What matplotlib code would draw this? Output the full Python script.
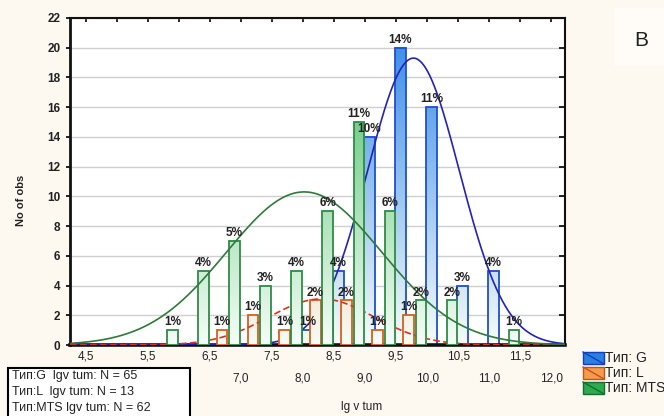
import numpy as np
import matplotlib
matplotlib.use("Agg")
import matplotlib.pyplot as plt
from matplotlib.patches import Rectangle
from matplotlib.lines import Line2D
from matplotlib.colors import LinearSegmentedColormap

plt.rcParams['font.family'] = ['Liberation Sans', 'DejaVu Sans']

# bin centres (lg v tum) and counts per group
bins = [6.0, 6.5, 7.0, 7.5, 8.0, 8.5, 9.0, 9.5, 10.0, 10.5, 11.0, 11.5]
g_counts = [0, 0, 0, 0, 1, 5, 14, 20, 16, 4, 5, 0]
l_counts = [0, 1, 2, 1, 3, 3, 1, 2, 0, 0, 0, 0]
mts_counts = [1, 5, 7, 4, 5, 9, 15, 9, 3, 3, 0, 1]

# fitted normal curves: mean, sd, peak height
g_fit = (9.78, 0.74, 19.3)
l_fit = (8.30, 0.85, 3.1)
mts_fit = (8.02, 1.25, 10.3)

# tick labels: first row at x.5, second row at integers (5,0 and 6,0 sit under the N box)
row1_ticks = [4.5, 5.5, 6.5, 7.5, 8.5, 9.5, 10.5, 11.5]
row1_labels = ["4,5", "5,5", "6,5", "7,5", "8,5", "9,5", "10,5", "11,5"]
row2_ticks = [5.0, 6.0, 7.0, 8.0, 9.0, 10.0, 11.0, 12.0]
row2_labels = ["", "", "7,0", "8,0", "9,0", "10,0", "11,0", "12,0"]

n_labels = ["Тип:G  lgv tum: N = 65", "Тип:L  lgv tum: N = 13", "Тип:MTS lgv tum: N = 62"]
legend_names = ["Тип: G", "Тип: L", "Тип: MTS"]

W, H = 664, 416
fig = plt.figure(figsize=(W / 100, H / 100), dpi=100, facecolor='#fdf9f1')
ax = fig.add_axes([70 / W, 1 - 345 / H, 495 / W, 327 / H])
ax.set_facecolor('white')

YMAX = 22
total = sum(g_counts) + sum(l_counts) + sum(mts_counts)


def grad_bar(x, h, w, base, edge, z):
    if h <= 0:
        return
    cmap = LinearSegmentedColormap.from_list('g', ['#f6fcf8', base])
    vals = np.linspace(0, h, 60).reshape(-1, 1) / YMAX
    ax.imshow(vals, cmap=cmap, vmin=0, vmax=1, origin='lower', aspect='auto',
              extent=(x - w / 2, x + w / 2, 0, h), zorder=z, interpolation='bilinear')
    ax.add_patch(Rectangle((x - w / 2, 0), w, h, facecolor='none', edgecolor=edge,
                           lw=1.3, zorder=z + 0.1))
    ax.text(x, h + 0.12, f"{round(100 * h / total)}%", ha='center', va='bottom',
            fontsize=8.5, fontweight='bold', color='#222222', zorder=20)


def normal(fit, xs):
    m, s, peak = fit
    return peak * np.exp(-0.5 * ((xs - m) / s) ** 2)


xs = np.linspace(4.25, 12.22, 500)
width = 0.17
groups = [
    (g_counts, 0.07, '#2f86e8', '#1f4fcc', g_fit, '#2323b8', '-', 2),
    (l_counts, 0.20, '#f08a3c', '#d8601a', l_fit, '#e03020', (0, (4, 2)), 4),
    (mts_counts, -0.10, '#3dbb5c', '#2e8b45', mts_fit, '#2f7a3a', '-', 6),
]
for counts, off, base, edge, fit, lc, ls, z in groups:
    for b, c in zip(bins, counts):
        grad_bar(b + off, c, width, base, edge, z)
    ax.plot(xs, normal(fit, xs), color=lc, ls=ls, lw=1.2, zorder=z + 1)

ax.set_xlim(4.25, 12.22)
ax.set_ylim(0, YMAX)

ax.set_xticks(row1_ticks, row1_labels)
ax.set_xticks(row2_ticks, row2_labels, minor=True)
ax.tick_params(axis='x', which='both', bottom=False, top=True, direction='in',
               length=3, width=1.2, labelsize=8.5, labelcolor='#222222')
ax.tick_params(axis='x', which='major', pad=4)
ax.tick_params(axis='x', which='minor', pad=20)
ax.set_yticks(range(0, 23, 2))
ax.tick_params(axis='y', which='both', left=True, right=True, direction='out',
               length=3, width=1.2, labelsize=8.5, labelcolor='#222222', pad=4)
for lab in ax.get_yticklabels():
    lab.set_fontweight('bold')
for t in ax.yaxis.get_major_ticks():
    t.tick2line.set_marker(0)  # inward tick on right side
    t.tick2line.set_markersize(4)

ax.grid(axis='y', color='#cfcfcf', lw=1)
ax.set_axisbelow(True)
for side, lw in [('left', 2), ('bottom', 2.6), ('top', 1.5), ('right', 1.5)]:
    ax.spines[side].set_linewidth(lw)
    ax.spines[side].set_color('#111111')


def fx(x):
    return x / W


def fy(y):
    return 1 - y / H


fig.text(fx(21), fy(200), "No of obs", rotation=90, ha='center', va='center',
         fontsize=8, fontweight='bold', color='#222222')
fig.text(fx(362), fy(407), "lg v tum", ha='center', va='center', fontsize=8.5,
         color='#222222')

# N box, bottom left
fig.add_artist(Rectangle((fx(8), fy(425)), fx(182), 57 / H, transform=fig.transFigure,
                         facecolor='white', edgecolor='black', lw=1.5, zorder=5))
for i, s in enumerate(n_labels):
    fig.text(fx(12), fy(376 + 16 * i), s, ha='left', va='center', fontsize=9,
             color='#222222', zorder=6)

# group legend, right
leg_cols = [('#2a7fe0', '#1040c0'), ('#f59b50', '#c85010'), ('#2eaa50', '#107030')]
for i, (name, (fc, ec)) in enumerate(zip(legend_names, leg_cols)):
    top = 352 + 15 * i
    fig.add_artist(Rectangle((fx(583), fy(top + 12)), fx(21), 12 / H,
                             transform=fig.transFigure, facecolor=fc, edgecolor=ec, lw=1))
    fig.add_artist(Line2D([fx(583), fx(604)], [fy(top), fy(top + 12)],
                          transform=fig.transFigure, color=ec, lw=1))
    fig.text(fx(605), fy(top + 6), name, ha='left', va='center', fontsize=10,
             color='#222222')

# panel letter
fig.add_artist(Rectangle((fx(614), fy(66)), fx(50), 58 / H, transform=fig.transFigure,
                         facecolor='#fffcf7', edgecolor='none'))
fig.text(fx(641), fy(40), "В", ha='center', va='center', fontsize=15, color='#222222')

fig.savefig("out.png", dpi=100, facecolor=fig.get_facecolor())
